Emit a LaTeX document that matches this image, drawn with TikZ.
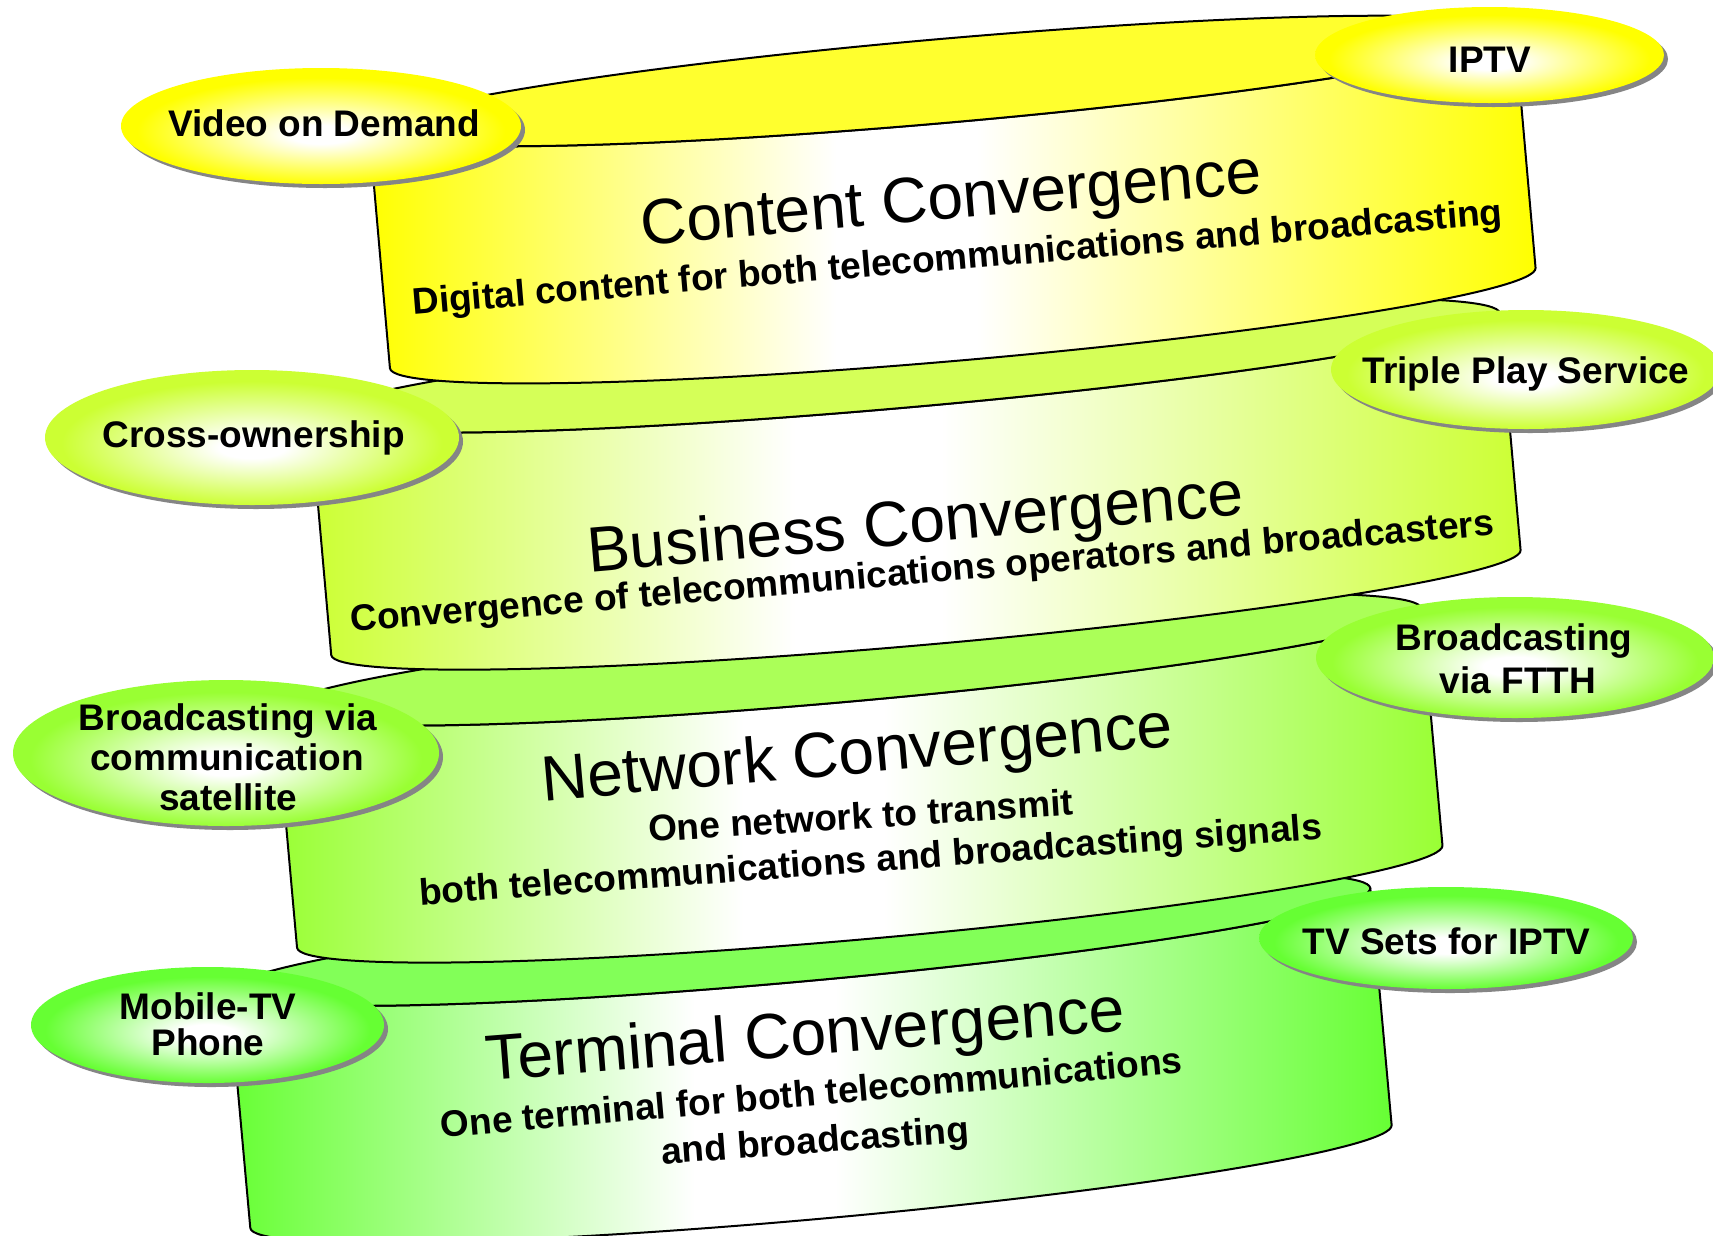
\documentclass[tikz,border=0pt]{standalone}
\usepackage{fontspec}
\setmainfont{Liberation Sans}
\definecolor{cYel}{HTML}{FFFF00}
\definecolor{cBus}{HTML}{CCFF33}
\definecolor{cNet}{HTML}{99FF33}
\definecolor{cTer}{HTML}{66FF33}
\colorlet{cylc}{cYel}
\colorlet{ovc}{cYel}
\pgfdeclarehorizontalshading[cylc]{cylshade}{100bp}{color(0bp)=(cylc); color(25bp)=(cylc); color(45bp)=(white); color(51bp)=(white); color(75bp)=(cylc); color(100bp)=(cylc)}
\pgfdeclareradialshading[ovc]{ovshade}{\pgfpoint{0bp}{-4bp}}{color(0bp)=(white); color(4bp)=(white); color(23bp)=(ovc); color(50bp)=(ovc)}
\tikzset{
  canline/.style={draw=black, line width=2pt, line join=round},
  ovshadow/.style={fill=black!48},
  ovlabel/.style={font=\fontsize{37}{40}\selectfont\bfseries, inner sep=0pt, anchor=base},
  titletxt/.style={font=\fontsize{64}{70}\selectfont, inner sep=0pt, anchor=base},
  subtxt/.style={font=\fontsize{37}{40}\selectfont\bfseries, inner sep=0pt, anchor=base},
}
% color, cx, cy (y down), angle, half width
\newcommand{\drawcan}[5]{%
  \colorlet{cylc}{#1}%
  \begin{scope}[shift={(#2,-#3)}, rotate=#4]
    \shadedraw[shading=cylshade, canline]
      (-#5,0) -- (-#5,-238) arc[start angle=180, end angle=360, x radius=#5, y radius=42]
      -- (#5,0) arc[start angle=0, end angle=-180, x radius=#5, y radius=42] -- cycle;
    \path[canline, fill=#1!82!white] (0,0) ellipse[x radius=#5, y radius=42];
  \end{scope}}
% color, cx, cy (y down), a, b
\newcommand{\drawoval}[5]{%
  \colorlet{ovc}{#1}%
  \fill[ovshadow] (#2+4,-#3-4) ellipse[x radius=#4, y radius=#5];
  \shade[shading=ovshade] (#2,-#3) ellipse[x radius=#4, y radius=#5];}
\begin{document}
\begin{tikzpicture}[x=1pt, y=1pt]
\useasboundingbox (0,0) rectangle (1713,-1235);
\fill[white] (0,0) rectangle (1713,-1235);

% ---------- Terminal ----------
\drawcan{cTer}{799.6}{939.5}{5.15}{573}
\node[titletxt, rotate=4.5] (tert) at (806.5,-1055.5) {Terminal Convergence};
\node[subtxt, rotate=5.0] (ters1) at (812.5,-1105.5) {One terminal for both telecommunications};
\node[subtxt, rotate=4.2] (ters2) at (816,-1153) {and broadcasting};

% ---------- Network ----------
\drawcan{cNet}{848.6}{659.5}{5.1}{575}
\node[titletxt, rotate=5.0] (nett) at (858.5,-773.5) {Network Convergence};
\node[subtxt, rotate=3.6] (nets1) at (861.5,-828.5) {One network to transmit};
\node[subtxt, rotate=4.2] (nets2) at (871.5,-872) {both telecommunications and broadcasting signals};

% ---------- Business ----------
\drawcan{cBus}{905}{365.5}{5.04}{597}
\node[titletxt, rotate=5.0] (bust) at (917,-543.5) {Business Convergence};
\node[subtxt, rotate=4.84] (buss) at (923,-583.5) {Convergence of telecommunications operators and broadcasters};

% ---------- Content ----------
\drawcan{cYel}{942}{81}{5.0}{575}
\node[titletxt, rotate=4.82] (cont) at (952.5,-219) {Content Convergence};
\node[subtxt, rotate=4.76] (cons) at (958.5,-269.5) {Digital content for both telecommunications and broadcasting};

% ---------- Ovals ----------
\drawoval{cYel}{321}{126}{200}{58}
\node[ovlabel] (vod) at (324,-136) {Video on Demand};
\drawoval{cYel}{1489.5}{55}{174.5}{48}
\node[ovlabel] (iptv) at (1490,-72) {IPTV};

\drawoval{cBus}{252}{437.5}{207}{67.5}
\node[ovlabel] (cross) at (253.5,-447) {Cross-ownership};
\drawoval{cBus}{1526}{369.5}{195}{59.5}
\node[ovlabel] (triple) at (1526,-383) {Triple Play Service};

\drawoval{cNet}{226}{753}{213}{73}
\node[ovlabel] (sat1) at (228,-730) {Broadcasting via};
\node[ovlabel] (sat2) at (227,-770) {communication};
\node[ovlabel] (sat3) at (228,-810) {satellite};
\drawoval{cNet}{1515}{657.5}{199}{60.5}
\node[ovlabel] (ftth1) at (1514,-650) {Broadcasting};
\node[ovlabel] (ftth2) at (1518,-693) {via FTTH};

\drawoval{cTer}{207.5}{1025}{176.5}{58}
\node[ovlabel] (mob1) at (208,-1019) {Mobile-TV};
\node[ovlabel] (mob2) at (208,-1055) {Phone};
\drawoval{cTer}{1446}{938}{187}{51}
\node[ovlabel] (tvsets) at (1446.5,-954) {TV Sets for IPTV};
\end{tikzpicture}
\end{document}
